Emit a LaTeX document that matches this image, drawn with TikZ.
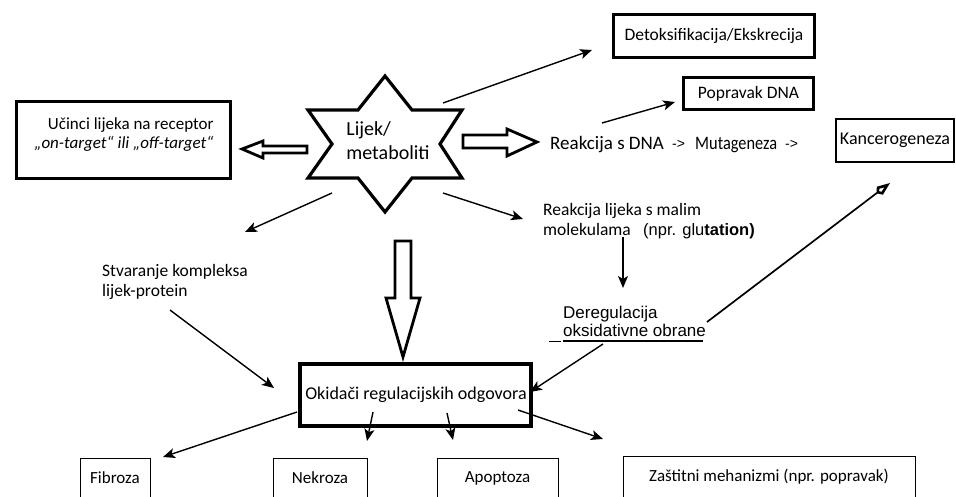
\documentclass[tikz,border=0pt]{standalone}
\usepackage{fontspec}
\setmainfont{Carlito}
\newfontfamily\arialf{Liberation Sans}
\usetikzlibrary{arrows.meta}
\newcommand{\fsz}[1]{\fontsize{#1}{#1}\selectfont}
\begin{document}
\begin{tikzpicture}[x=1pt,y=-1pt,
  thickbox/.style={draw, line width=3.4pt, inner sep=0pt},
  thinbox/.style={draw, line width=0.9pt, inner sep=0pt, minimum height=40pt},
  txt/.style={inner sep=0pt, font=\fsz{17.5}},
  conn/.style={line width=1.4pt, -{Stealth[length=12pt,width=10pt,inset=3pt]}},
  hollow/.style={draw, line width=2.8pt, fill=white, line join=miter}
]
\useasboundingbox (0,0) rectangle (956,496);
\clip (0,0) rectangle (956,496);

% ---------- star ----------
\coordinate (sT) at (385,76);
\coordinate (sB) at (385,212);
\coordinate (sUL) at (308,110);
\coordinate (sUR) at (462,110);
\coordinate (sLL) at (308,178);
\coordinate (sLR) at (462,178);
\draw[line width=3.2pt, line join=miter]
  (sT) -- (412,110) -- (sUR) -- (440,144) -- (sLR) -- (412,178) -- (sB)
  -- (358,178) -- (sLL) -- (332,144) -- (sUL) -- (358,110) -- cycle;
\node[txt, font=\fsz{20}, align=left] (star) at (388,141) {Lijek/\\[4pt]metaboliti};

% ---------- boxes ----------
\node[thickbox, minimum width=214pt, minimum height=77pt] (rec) at (123.5,140) {};
\node[txt, font=\fsz{17}, align=right] (rectxt) at (124,135)
  {Učinci lijeka na receptor\\[2pt]{\itshape „on-target“ ili „off-target“}};

\node[thickbox, minimum width=201pt, minimum height=43pt, font=\fsz{17.5}] (detox) at (714,36) {Detoksifikacija/Ekskrecija};
\node[thickbox, minimum width=130pt, minimum height=32pt, font=\fsz{17.5}] (popravak) at (748.5,93.5) {Popravak DNA};
\node[draw, line width=2pt, inner sep=0pt, minimum width=118pt, minimum height=43pt, font=\fsz{18}] (kanc) at (895,140.5) {Kancerogeneza};

\node[txt, anchor=base west, font=\fsz{19}] (dna) at (550,149) {Reakcija s DNA};
\node[txt, anchor=base west, font=\arialf\fsz{14}] (arr1) at (672,148) {->};
\node[txt, anchor=base west, font=\fsz{19}] (mut) at (695,149) {\scalebox{0.86}[1]{Mutageneza}};
\node[txt, anchor=base west, font=\arialf\fsz{14}] (arr2) at (785,148) {->};

\node[txt, anchor=base west] (small1) at (543,215) {Reakcija lijeka s malim};
\node[txt, anchor=base west] (small2) at (543,235) {molekulama};
\node[txt, anchor=base west, font=\arialf\fsz{16.5}] (small3) at (643,235) {(npr. glu\textbf{tation)}};

\node[txt, anchor=base west, font=\arialf\fsz{17}] (dereg1) at (563,318) {Deregulacija};
\node[txt, anchor=base west, font=\arialf\fsz{17}] (dereg2) at (563,336) {oksidativne obrane};
\draw[line width=1.8pt] (563,341) -- (703,341);
\draw[line width=0.8pt] (549,341) -- (561,341);

\node[txt, anchor=base west] (kompl1) at (102,276) {Stvaranje kompleksa};
\node[txt, anchor=base west] (kompl2) at (102,296) {lijek-protein};

\node[draw, line width=4pt, inner sep=0pt, minimum width=231pt, minimum height=62pt] (okid) at (415.5,395) {};
\node[txt, anchor=base, font=\fsz{18}] (okidtxt) at (416,399) {Okidači regulacijskih odgovora};

\node[thinbox, minimum width=70pt, font=\fsz{17}] (fib) at (115,478) {Fibroza};
\node[thinbox, minimum width=94pt, font=\fsz{17}] (nek) at (320,478) {Nekroza};
\node[thinbox, minimum width=121pt, font=\fsz{17}] (apo) at (497.5,478) {Apoptoza};
\node[thinbox, minimum width=292pt, minimum height=42pt, font=\fsz{17}] (zas) at (769,477) {Zaštitni mehanizmi (npr. popravak)};

% ---------- hollow block arrows ----------
\draw[hollow] (242,149) -- (263,141) -- (263,146) -- (307,146) -- (307,153) -- (263,153) -- (263,158) -- cycle;
\draw[hollow] (537,142) -- (507,129) -- (507,135) -- (463,135) -- (463,148) -- (507,148) -- (507,156) -- cycle;
\draw[hollow] (395,241) -- (411,241) -- (411,298) -- (420,298) -- (403,357) -- (386,298) -- (395,298) -- cycle;

% ---------- connector end points ----------
\coordinate (a1s) at (443,103);  \coordinate (a1e) at (592,50);
\coordinate (a2s) at (602,123);  \coordinate (a2e) at (675,102);
\coordinate (a3s) at (443,193);  \coordinate (a3e) at (523,219);
\coordinate (a4s) at (623,237);  \coordinate (a4e) at (623,288);
\coordinate (a5s) at (332,193);  \coordinate (a5e) at (245,232);
\coordinate (a6s) at (170,310);  \coordinate (a6e) at (274,388);
\coordinate (a7s) at (603,344);  \coordinate (a7e) at (530,392);
\coordinate (a8s) at (707,322);  \coordinate (a8e) at (890,183);
\coordinate (b1s) at (297,412);  \coordinate (b1e) at (163,457);
\coordinate (b2s) at (373,412);  \coordinate (b2e) at (367,441);
\coordinate (b3s) at (447,413);  \coordinate (b3e) at (453,440);
\coordinate (b4s) at (518,410);  \coordinate (b4e) at (603,439);

\draw[conn] (a1s) -- (a1e);
\draw[conn] (a2s) -- (a2e);
\draw[conn] (a3s) -- (a3e);
\draw[conn] (a4s) -- (a4e);
\draw[conn] (a5s) -- (a5e);
\draw[conn] (a6s) -- (a6e);
\draw[conn] (a7s) -- (a7e);
\draw[line width=1.7pt, -{Kite[open,length=17pt,width=10pt,line width=2.6pt]}] (a8s) -- (a8e);
\draw[conn] (b1s) -- (b1e);
\draw[conn] (b2s) -- (b2e);
\draw[conn] (b3s) -- (b3e);
\draw[conn] (b4s) -- (b4e);
\end{tikzpicture}
\end{document}
